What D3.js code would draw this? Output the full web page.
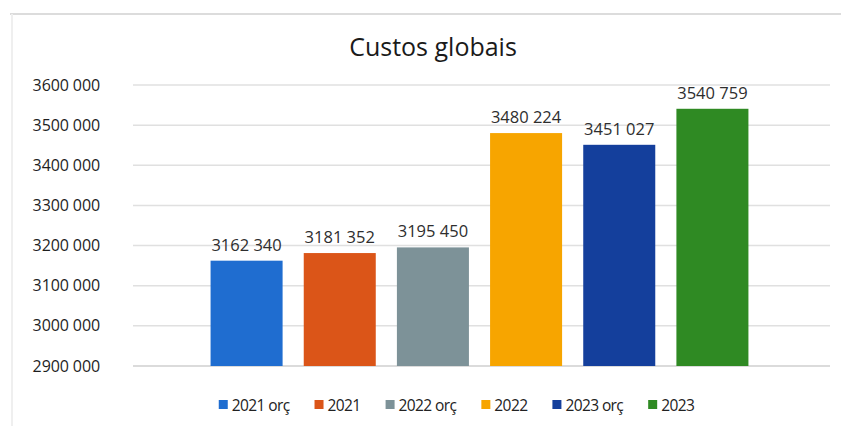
<!DOCTYPE html>
<html><head><meta charset="utf-8">
<script src="https://cdn.jsdelivr.net/npm/d3@7"></script>
<style>
html,body{margin:0;padding:0;background:#fff;}
svg{display:block;}
text{font-family:"Open Sans","Noto Sans",sans-serif;}
</style></head>
<body>
<svg id="c" width="841" height="426"></svg>
<script>
const categories = ["2021 orç","2021","2022 orç","2022","2023 orç","2023"];
const values = [3162340, 3181352, 3195450, 3480224, 3451027, 3540759];
const colors = ["#1f6dd0","#db5518","#7d9298","#f7a500","#143f9c","#2f8a23"];
const yTicks = [2900000,3000000,3100000,3200000,3300000,3400000,3500000,3600000];
const title = "Custos globais";

function fmt(v){
  const t = Math.floor(v/1000), r = v % 1000;
  return t + " " + String(r).padStart(3,"0");
}

const svg = d3.select("#c");
// frame
svg.append("line").attr("x1",10).attr("x2",841).attr("y1",14).attr("y2",14)
  .attr("stroke","#dcdcdc").attr("stroke-width",2);
svg.append("line").attr("x1",12).attr("x2",12).attr("y1",14).attr("y2",426)
  .attr("stroke","#efefef").attr("stroke-width",2);

const y = d3.scaleLinear().domain([2900000,3600000]).range([366,85]);
const x = d3.scaleBand().domain(categories).range([200,759]).paddingInner(0.227).paddingOuter(0.1135);

// gridlines
svg.append("g").selectAll("line").data(yTicks).join("line")
  .attr("x1",133).attr("x2",830)
  .attr("y1",d=>y(d)).attr("y2",d=>y(d))
  .attr("stroke",(d,i)=> i===0 ? "#cfcfcf" : "#e0e0e0").attr("stroke-width",1.5);

// y axis labels
const ax = svg.append("g").attr("transform","translate(100,0)")
  .call(d3.axisLeft(y).tickValues(yTicks).tickSize(0).tickPadding(0).tickFormat(fmt));
ax.select(".domain").remove();
ax.selectAll("text").attr("font-size",16).attr("fill","#1e1e1e")
  .attr("font-family","'Open Sans','Noto Sans',sans-serif").attr("letter-spacing","-0.1");

// bars
svg.append("g").selectAll("rect").data(values).join("rect")
  .attr("x",(d,i)=>x(categories[i]))
  .attr("width",x.bandwidth())
  .attr("y",d=>y(d))
  .attr("height",d=>y(2900000)-y(d))
  .attr("fill",(d,i)=>colors[i]);

// value labels
svg.append("g").selectAll("text").data(values).join("text")
  .attr("x",(d,i)=>x(categories[i])+x.bandwidth()/2)
  .attr("y",d=>y(d)-10)
  .attr("text-anchor","middle")
  .attr("font-size",16.5).attr("fill","#2e2e2e")
  .text(d=>fmt(d));

// title
svg.append("text").attr("x",433).attr("y",56).attr("text-anchor","middle")
  .attr("font-size",25).attr("fill","#1a1a1a").text(title);

// legend
const lg = svg.append("g");
let cx = 0;
categories.forEach((c,i)=>{
  const g = lg.append("g");
  g.append("rect").attr("x",0).attr("y",-5).attr("width",9).attr("height",9).attr("fill",colors[i]);
  const t = g.append("text").attr("x",13).attr("y",5.5).attr("font-size",15.5)
    .attr("letter-spacing","-0.6").attr("fill","#222").text(c);
  const w = 13 + t.node().getComputedTextLength();
  g.attr("transform",`translate(${cx},405)`);
  cx += w + 25;
});
const total = cx - 25;
lg.attr("transform",`translate(${(231+682)/2 - total/2},0)`);
</script>
</body></html>
